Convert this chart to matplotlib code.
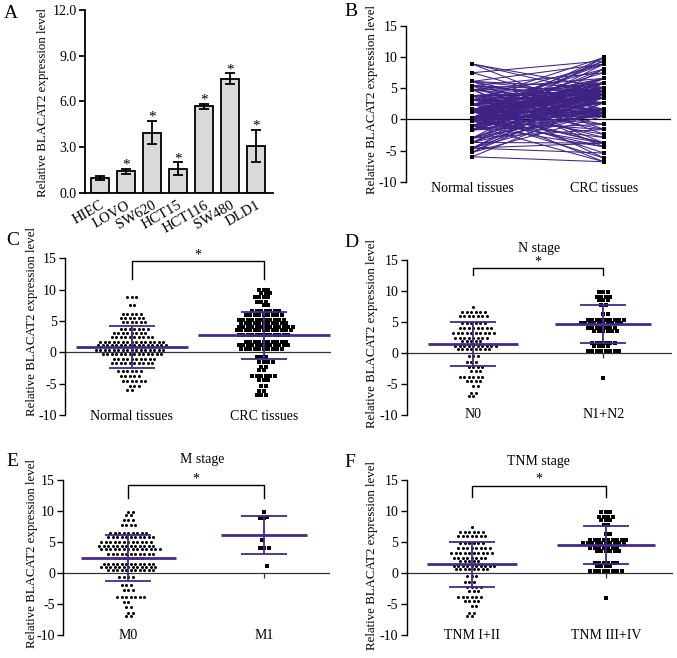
import numpy as np
import matplotlib
matplotlib.use('Agg')
import matplotlib.pyplot as plt
from matplotlib.collections import LineCollection
from matplotlib.transforms import ScaledTranslation

plt.rcParams['font.family'] = ['Liberation Serif', 'DejaVu Serif']
plt.rcParams['axes.unicode_minus'] = False

W, H = 677, 658
PURPLE = '#45288a'

# ---------------- data ----------------
# Panel A
cell_lines = ['HIEC', 'LOVO', 'SW620', 'HCT15', 'HCT116', 'SW480', 'DLD1']
cell_means = [1.0, 1.42, 3.96, 1.6, 5.68, 7.48, 3.08]
cell_errs = [0.13, 0.15, 0.76, 0.40, 0.17, 0.35, 1.03]
cell_sig = [False, True, True, True, True, True, True]
a_yticks = [0.0, 3.0, 6.0, 9.0, 12.0]

dot_yticks = [-10, -5, 0, 5, 10, 15]

# Panel C (rows of dots: value level, number of dots)
normal_levels = [8.9, 7.5, 6.1, 5.4, 4.8, 3.8, 3.1, 2.4, 1.6, 1.2, 0.3, -0.3,
                 -1.0, -1.7, -3.0, -3.7, -4.6, -5.3, -6.0]
normal_counts = [3, 2, 5, 6, 6, 7, 8, 10, 15, 16, 16, 14, 10, 10, 6, 5, 6, 3, 2]
crc_levels = [9.95, 9.4, 8.9, 8.1, 7.5, 6.6, 5.9, 5.1, 4.6, 4.0, 3.5, 2.7, 1.6,
              1.1, 0.55, -0.8, -1.6, -2.4, -2.9, -3.8, -4.4, -5.4, -6.2, -6.8]
crc_counts = [3, 3, 4, 3, 2, 7, 9, 11, 11, 13, 13, 12, 10, 12, 10, 3, 4, 2, 2,
              6, 3, 2, 2, 3]
c_labels = ['Normal tissues', 'CRC tissues']
c_stats = [(0.85, 3.3), (2.7, 3.75)]

# Panel D
n0_levels = [7.5, 6.6, 5.9, 4.8, 4.0, 3.2, 2.5, 1.9, 1.1, 0.6, -0.5, -1.4,
             -2.2, -2.9, -3.9, -4.5, -5.3, -6.5, -7.0]
n0_counts = [1, 6, 7, 6, 8, 10, 8, 5, 10, 8, 3, 3, 4, 3, 6, 4, 2, 2, 2]
n12_levels = [9.8, 9.1, 8.5, 7.8, 6.3, 5.4, 4.8, 4.0, 3.5, 1.6, 1.1, 0.4, -4.0]
n12_counts = [3, 4, 3, 2, 2, 9, 10, 7, 6, 6, 4, 8, 1]
d_labels = ['N0', 'N1+N2']
d_stats = [(1.45, 3.6), (4.65, 3.05)]

# Panel E
m0_levels = [9.9, 9.4, 8.5, 7.7, 6.5, 5.8, 5.0, 4.35, 3.8, 3.1, 2.4, 1.5, 1.0,
             0.45, -0.6, -1.9, -2.7, -3.9, -4.6, -5.5, -6.4, -7.0]
m0_counts = [2, 2, 3, 4, 9, 11, 12, 13, 14, 11, 7, 12, 13, 11, 4, 3, 3, 7, 2,
             2, 2, 2]
m1_levels = [9.8, 9.05, 8.8, 5.4, 4.0, 1.2]
m1_counts = [1, 1, 2, 1, 3, 1]
e_labels = ['M0', 'M1']
e_stats = [(2.4, 3.68), (6.1, 3.04)]

# Panel F
tnm12_levels = n0_levels
tnm12_counts = n0_counts
tnm34_levels = n12_levels
tnm34_counts = n12_counts
f_labels = ['TNM I+II', 'TNM III+IV']
f_stats = [(1.4, 3.6), (4.5, 3.05)]

# ---------------- figure ----------------
fig = plt.figure(figsize=(W / 100, H / 100), dpi=100)


def ax_px(left, top, right, bottom):
    return fig.add_axes([left / W, 1 - bottom / H, (right - left) / W,
                         (bottom - top) / H])


def ylabel(x, y):
    fig.text(x / W, 1 - y / H, 'Relative BLACAT2 expression level',
             rotation=90, ha='center', va='center', fontsize=9.3)


def letter(s, x, y):
    fig.text(x / W, 1 - y / H, s, ha='center', va='center', fontsize=14)


def expand(levels, counts):
    return np.repeat(np.asarray(levels, float), counts)


def row_offsets(counts, pitch):
    """Centred rows of dots, alternate rows staggered by half a pitch."""
    out = []
    for i, c in enumerate(counts):
        base = (np.arange(c) - (c - 1) / 2.0) * pitch
        want_half = (i % 2 == 1)
        is_half = (c % 2 == 0)
        if want_half != is_half:
            base = base + (pitch / 2.0 if (i // 2) % 2 == 0 else -pitch / 2.0)
        out.append(base)
    return out


# ---- Panel A ----
axA = ax_px(85, 9.7, 273, 193)
xa = np.arange(len(cell_lines))
axA.bar(xa, cell_means, width=0.7, color='#d9d9d9', edgecolor='black',
        linewidth=1.3, zorder=2)
axA.errorbar(xa, cell_means, yerr=cell_errs, fmt='none', ecolor='black',
             elinewidth=1.3, capsize=3.6, capthick=1.3, zorder=3)
for xi, m, e, s in zip(xa, cell_means, cell_errs, cell_sig):
    if s:
        axA.text(xi, m + e + 0.25, '*', ha='center', va='center', fontsize=11)
axA.set_xlim(-0.58, 6.65)
axA.set_ylim(0, 12)
axA.set_yticks(a_yticks)
axA.set_yticklabels([f'{v:.1f}' for v in a_yticks])
axA.set_xticks(xa)
axA.set_xticklabels(cell_lines, rotation=30, ha='right',
                    rotation_mode='anchor')
shift = ScaledTranslation(11 / 100, 0, fig.dpi_scale_trans)
for lab in axA.get_xticklabels():
    lab.set_transform(lab.get_transform() + shift)
for s in ['top', 'right']:
    axA.spines[s].set_visible(False)
for s in ['left', 'bottom']:
    axA.spines[s].set_linewidth(1.3)
axA.tick_params(axis='y', direction='out', length=4.5, width=1.3,
                labelsize=10, pad=1.5)
axA.tick_params(axis='x', length=0, labelsize=10.5, pad=4)
ylabel(43.3, 102.5)
letter('A', 11, 13.5)

# ---- Panel B ----
axB = ax_px(405.7, 26, 671, 181.7)
normal_vals = np.sort(expand(normal_levels, normal_counts))
crc_vals = np.sort(expand(crc_levels, crc_counts))
n = min(len(normal_vals), len(crc_vals))
perm = (np.arange(n) * 61) % n
segs = [[(0, normal_vals[i]), (1, crc_vals[perm[i]])] for i in range(n)]
axB.add_collection(LineCollection(segs, colors='#3e2385', linewidths=0.75,
                                  zorder=2))
for xe, vals in ((0, normal_vals[:n]), (1, crc_vals[:n])):
    axB.scatter(np.full(n, xe), vals, marker='s', s=9, c='black',
                linewidths=0, zorder=3)
axB.axhline(0, color='black', lw=0.9, zorder=1)
axB.set_xlim(-0.506, 1.51)
axB.set_ylim(-10, 15)
axB.set_yticks(dot_yticks)
axB.set_xticks([])
for s in ['top', 'right', 'bottom']:
    axB.spines[s].set_visible(False)
axB.spines['left'].set_linewidth(1.0)
axB.tick_params(axis='y', direction='out', length=4.5, width=1.0,
                labelsize=10, pad=1.5)
for xi, lab in enumerate(c_labels):
    axB.text(xi, -11.06, lab, ha='center', va='center', fontsize=10,
             clip_on=False)
ylabel(371.7, 100)
letter('B', 351, 11)


# ---- dot panels ----
def dot_panel(box, xlim, groups, labels, stats, mean_hw, lab_y, bracket,
              star_y, title=None, title_xy=None):
    ax = ax_px(*box)
    ax.set_xlim(*xlim)
    ax.set_ylim(-10, 15)
    ppu = (box[2] - box[0]) / (xlim[1] - xlim[0])
    for xc, (levels, counts, marker) in enumerate(groups):
        offs = row_offsets(counts, 4.5)
        xs = np.concatenate(offs) / ppu + xc
        ys = expand(levels, counts)
        ax.scatter(xs, ys, s=(4.8 if marker == 'o' else 5.6), marker=marker,
                   c='black', linewidths=0, zorder=3)
    for xc, ((m, sd), hw) in enumerate(zip(stats, mean_hw)):
        ax.hlines(m, xc - hw / ppu, xc + hw / ppu, color=PURPLE, lw=2.0,
                  zorder=4)
        sdw = 23 / ppu
        ax.hlines([m - sd, m + sd], xc - sdw, xc + sdw, color=PURPLE, lw=1.3,
                  zorder=4)
        ax.vlines(xc, m - sd, m + sd, color=PURPLE, lw=1.3, zorder=4)
        ax.vlines(xc, -0.8, 0, color='#333333', lw=0.9, zorder=1)
    ax.axhline(0, color='#333333', lw=0.9, zorder=1)
    lo, hi = bracket
    ax.plot([0, 0, 1, 1], [lo, hi, hi, lo], color='black', lw=1.0,
            clip_on=False, zorder=5)
    ax.text(0.5, star_y, '*', ha='center', va='center', fontsize=10,
            clip_on=False)
    ax.set_yticks(dot_yticks)
    ax.set_xticks([])
    for s in ['top', 'right', 'bottom']:
        ax.spines[s].set_visible(False)
    ax.spines['left'].set_linewidth(1.0)
    ax.tick_params(axis='y', direction='out', length=4.5, width=1.0,
                   labelsize=10, pad=1.5)
    for xi, lab in enumerate(labels):
        ax.text(xi, lab_y, lab, ha='center', va='center', fontsize=10,
                clip_on=False)
    if title:
        fig.text(title_xy[0] / W, 1 - title_xy[1] / H, title, ha='center',
                 va='center', fontsize=10)
    return ax


dot_panel((65, 258.3, 331, 415), (-0.506, 1.51),
          [(normal_levels, normal_counts, 'o'), (crc_levels, crc_counts, 's')],
          c_labels, c_stats, (56, 66), -10.25, (11.7, 14.5), 15.5)
ylabel(31.7, 321.5)
letter('C', 12.5, 240)

dot_panel((406.7, 260, 671.7, 415), (-0.512, 1.526),
          [(n0_levels, n0_counts, 'o'), (n12_levels, n12_counts, 's')],
          d_labels, d_stats, (45, 48), -9.9, (12.6, 13.7), 14.7,
          'N stage', (539.3, 248.3))
ylabel(371.7, 334)
letter('D', 351, 242.5)

dot_panel((63.3, 480, 330, 635), (-0.478, 1.483),
          [(m0_levels, m0_counts, 'o'), (m1_levels, m1_counts, 's')],
          e_labels, e_stats, (47.5, 43), -10.15, (12.1, 14.25), 15.2,
          'M stage', (201.7, 460))
ylabel(31.7, 553)
letter('E', 12, 461.5)

dot_panel((406.7, 480, 672.7, 635), (-0.484, 1.497),
          [(tnm12_levels, tnm12_counts, 'o'), (tnm34_levels, tnm34_counts, 's')],
          f_labels, f_stats, (45, 49), -10.15, (12.3, 14.1), 15.2,
          'TNM stage', (538, 461))
ylabel(371.7, 555)
letter('F', 350, 462.5)

fig.savefig('out.png', dpi=100)
